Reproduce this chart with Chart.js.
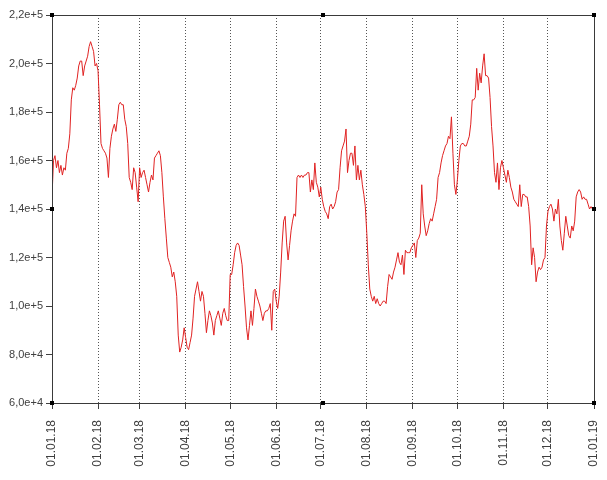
<!DOCTYPE html>
<html>
<head>
<meta charset="utf-8">
<script src="https://cdn.jsdelivr.net/npm/chart.js@4.4.1/dist/chart.umd.min.js"></script>
<style>
  html, body { margin: 0; padding: 0; background: #ffffff; }
  #wrap { width: 607px; height: 480px; }
</style>
</head>
<body>
<div id="wrap"><canvas id="priceChart" width="607" height="480"></canvas></div>
<script>
// ==========================================
// DATA (daily values in thousands, 2018)
// ==========================================

const monthLabels = [
  "01.01.18", "01.02.18", "01.03.18", "01.04.18", "01.05.18", "01.06.18", "01.07.18",
  "01.08.18", "01.09.18", "01.10.18", "01.11.18", "01.12.18", "01.01.19"
];
const monthStarts = [0, 31, 59, 90, 120, 151, 181, 212, 243, 273, 304, 334, 365];

const jan = [145, 160, 162, 157, 160, 155, 158, 154, 157, 156, 163, 165, 171, 185, 190, 189,
  191, 194, 199, 201, 201, 195, 199, 201, 203, 207, 209, 207, 205, 199, 200];
const feb = [197, 183, 167, 165, 164, 163, 161, 153, 165, 170, 173, 175, 172, 177, 183, 184,
  183, 183, 177, 174, 167, 153, 151, 148, 157, 155, 149, 143];
const mar = [157, 153, 155, 156, 153, 150, 147, 151, 154, 152, 161, 162, 163, 164, 162, 155,
  145, 136, 128, 120, 118, 116, 112, 114, 110, 104, 88, 81, 83, 86, 91];
const apr = [87, 83, 82, 85, 88, 95, 104, 107, 110, 106, 102, 106, 104, 97, 89, 94,
  98, 96, 93, 88, 94, 96, 98, 95, 92, 97, 99, 96, 94, 94];
const may = [113, 113, 117, 122, 125, 126, 125, 121, 117, 108, 100, 91, 86, 92, 98, 92,
  99, 107, 104, 102, 100, 97, 94, 97, 98, 98, 99, 101, 90, 106, 107];
const jun = [102, 99, 104, 114, 126, 135, 137, 126, 119, 125, 131, 135, 138, 137, 153, 154,
  153, 154, 153, 154, 154, 155, 155, 147, 152, 148, 159, 151, 149, 145];
const jul = [149, 144, 141, 139, 138, 136, 141, 142, 140, 141, 143, 147, 148, 157, 164, 166,
  168, 173, 155, 160, 163, 163, 158, 166, 152, 158, 152, 156, 150, 146, 141];
const aug = [130, 117, 107, 104, 102, 104, 101, 103, 101, 100, 101, 102, 102, 101, 108, 113,
  112, 111, 114, 116, 119, 122, 118, 117, 121, 113, 123, 122, 122, 122, 124];
const sep = [125, 126, 120, 127, 128, 130, 150, 138, 133, 129, 131, 134, 136, 135, 138, 141,
  144, 153, 155, 159, 162, 164, 166, 167, 170, 169, 178, 163, 150, 146];
const oct = [152, 160, 166, 167, 167, 166, 166, 168, 170, 175, 185, 185, 186, 198, 189, 196,
  192, 199, 204, 195, 195, 194, 186, 174, 166, 155, 151, 159, 148, 157, 160];
const nov = [157, 154, 151, 156, 153, 149, 147, 144, 143, 142, 141, 150, 141, 146, 146, 145,
  145, 141, 133, 117, 124, 120, 110, 114, 116, 115, 116, 119, 120, 133];
const dec = [139, 141, 142, 140, 135, 140, 138, 144, 133, 127, 123, 130, 137, 133, 129, 128,
  133, 131, 135, 145, 147, 148, 147, 144, 145, 144, 144, 142, 140, 141, 140];

const dailyValues = [].concat(jan, feb, mar, apr, may, jun, jul, aug, sep, oct, nov, dec);

// ==========================================
// HELPERS
// ==========================================

function formatSci(value) {
  if (value === 0) return "0";
  const exp = Math.floor(Math.log10(value) + 1e-9);
  const mant = (value / Math.pow(10, exp)).toFixed(1).replace(".", ",");
  return `${mant}e+${exp}`;
}

// frame + little black selection handles around the plot area
const framePlugin = {
  id: "frame",
  afterDraw(chart) {
    const { ctx, chartArea: a } = chart;
    ctx.save();
    ctx.strokeStyle = "#3a3a3a";
    ctx.lineWidth = 1;
    ctx.strokeRect(Math.round(a.left) + 0.5, Math.round(a.top) + 0.5,
      Math.round(a.right - a.left), Math.round(a.bottom - a.top));
    ctx.fillStyle = "#000000";
    const midX = Math.round((a.left + a.right) / 2);
    const midY = Math.round((a.top + a.bottom) / 2);
    const pts = [
      [a.left, a.top], [midX, a.top], [a.right, a.top],
      [a.left, midY], [a.right, midY],
      [a.left, a.bottom], [midX, a.bottom], [a.right, a.bottom]
    ];
    pts.forEach(([x, y]) => ctx.fillRect(Math.round(x) - 2, Math.round(y) - 2, 4, 4));
    ctx.restore();
  }
};

// ==========================================
// CHART
// ==========================================

function initChart() {
  const ctx = document.getElementById("priceChart");

  const points = dailyValues.map((v, i) => ({ x: i, y: v * 1000 }));

  new Chart(ctx.getContext("2d"), {
    type: "line",
    data: {
      datasets: [{
        data: points,
        borderColor: "#e02222",
        borderWidth: 1,
        pointRadius: 0,
        tension: 0,
        fill: false
      }]
    },
    options: {
      responsive: false,
      animation: false,
      events: [],
      layout: { padding: { top: 15, right: 13, left: 0, bottom: 0 } },
      plugins: {
        legend: { display: false },
        tooltip: { enabled: false }
      },
      scales: {
        x: {
          type: "linear",
          min: 0,
          max: 365,
          afterBuildTicks: (scale) => {
            scale.ticks = monthStarts.map((v) => ({ value: v }));
          },
          afterFit: (scale) => {
            scale.height = 77;
            scale.paddingLeft = 0;
            scale.paddingRight = 0;
          },
          grid: {
            display: true,
            color: "#555555",
            lineWidth: 1,
            drawTicks: true,
            tickLength: 6,
            tickColor: "#404040"
          },
          border: { display: true, color: "#404040", width: 1, dash: [1, 2] },
          ticks: {
            autoSkip: false,
            maxRotation: 90,
            minRotation: 90,
            padding: 11,
            color: "#404040",
            font: { family: "'Liberation Sans', Arial, sans-serif", size: 12 },
            callback: (value, index) => monthLabels[index]
          }
        },
        y: {
          min: 60000,
          max: 220000,
          afterFit: (scale) => { scale.width = 52; },
          grid: {
            drawOnChartArea: false,
            drawTicks: true,
            tickLength: 6,
            tickColor: "#404040"
          },
          border: { display: true, color: "#404040", width: 1 },
          ticks: {
            stepSize: 20000,
            padding: 3,
            color: "#404040",
            font: { family: "'Liberation Sans', Arial, sans-serif", size: 11 },
            callback: (value) => formatSci(value)
          }
        }
      }
    },
    plugins: [framePlugin]
  });
}

document.addEventListener("DOMContentLoaded", function () {
  initChart();
});
</script>
</body>
</html>
